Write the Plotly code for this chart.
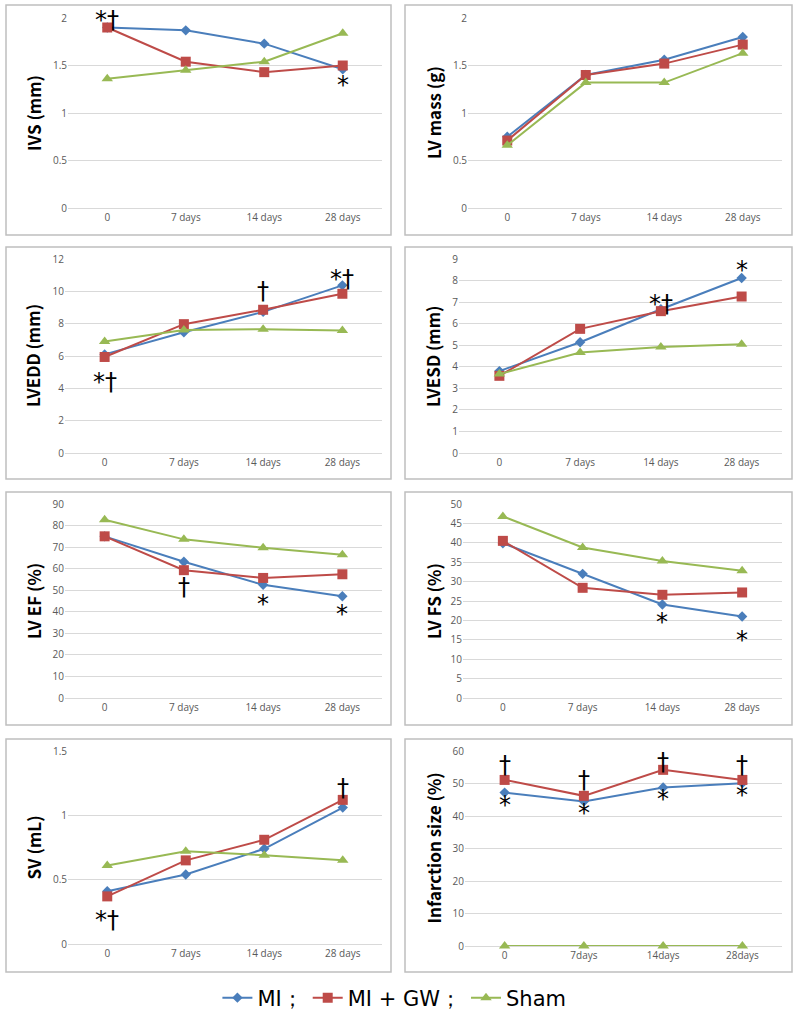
import plotly.graph_objects as go

W, H = 800, 1012

cats = ["0", "7 days", "14 days", "28 days"]
cats_inf = ["0", "7days", "14days", "28days"]

series_names = ["MI；", "MI + GW；", "Sham"]

# panel values: MI, MI+GW, Sham
ivs_mi = [1.90, 1.87, 1.73, 1.46]
ivs_gw = [1.90, 1.54, 1.43, 1.50]
ivs_sham = [1.36, 1.45, 1.54, 1.84]

mass_mi = [0.75, 1.40, 1.56, 1.80]
mass_gw = [0.71, 1.40, 1.52, 1.72]
mass_sham = [0.66, 1.32, 1.32, 1.63]

lvedd_mi = [6.10, 7.47, 8.73, 10.37]
lvedd_gw = [5.94, 7.97, 8.86, 9.85]
lvedd_sham = [6.89, 7.61, 7.66, 7.57]

lvesd_mi = [3.80, 5.14, 6.67, 8.12]
lvesd_gw = [3.58, 5.76, 6.58, 7.26]
lvesd_sham = [3.66, 4.66, 4.92, 5.04]

ef_mi = [75.0, 63.2, 52.5, 47.2]
ef_gw = [75.0, 59.3, 55.7, 57.4]
ef_sham = [82.7, 73.6, 69.7, 66.4]

fs_mi = [39.9, 32.0, 24.1, 21.0]
fs_gw = [40.5, 28.4, 26.6, 27.2]
fs_sham = [46.8, 38.8, 35.3, 32.8]

sv_mi = [0.41, 0.54, 0.74, 1.06]
sv_gw = [0.37, 0.65, 0.81, 1.12]
sv_sham = [0.61, 0.72, 0.69, 0.65]

inf_mi = [47.2, 44.5, 48.8, 50.1]
inf_gw = [51.1, 46.2, 54.2, 51.1]
inf_sham = [0, 0, 0, 0]

# significance marks: (panel index, category index, y value, text)
marks = [
    (0, 0, 1.98, "*†"), (0, 3, 1.30, "*"),
    (2, 0, 4.4, "*†"), (2, 2, 10.0, "†"), (2, 3, 10.75, "*†"),
    (3, 2, 6.9, "*†"), (3, 3, 8.5, "*"),
    (4, 1, 51.6, "†"), (4, 2, 43.5, "*"), (4, 3, 39.0, "*"),
    (5, 2, 19.5, "*"), (5, 3, 15.0, "*"),
    (6, 0, 0.19, "*†"), (6, 3, 1.21, "†"),
    (7, 0, 55.7, "†"), (7, 1, 51.1, "†"), (7, 2, 56.7, "†"), (7, 3, 55.7, "†"),
    (7, 0, 43.3, "*"), (7, 1, 41.0, "*"), (7, 2, 45.3, "*"), (7, 3, 46.5, "*"),
]

panels = [
    dict(title="IVS (mm)", cats=cats, data=[ivs_mi, ivs_gw, ivs_sham], rng=[0, 2], dt=0.5,
         plot=(68, 382, 18, 208), box=(6, 391, 5, 235)),
    dict(title="LV mass (g)", cats=cats, data=[mass_mi, mass_gw, mass_sham], rng=[0, 2], dt=0.5,
         plot=(468, 782, 18, 208), box=(405, 792, 5, 235)),
    dict(title="LVEDD (mm)", cats=cats, data=[lvedd_mi, lvedd_gw, lvedd_sham], rng=[0, 12], dt=2,
         plot=(65, 382, 259, 453), box=(6, 391, 247, 479)),
    dict(title="LVESD (mm)", cats=cats, data=[lvesd_mi, lvesd_gw, lvesd_sham], rng=[0, 9], dt=1,
         plot=(459, 782, 259, 453), box=(405, 792, 247, 479)),
    dict(title="LV EF (%)", cats=cats, data=[ef_mi, ef_gw, ef_sham], rng=[0, 90], dt=10,
         plot=(65, 382, 504, 698), box=(6, 391, 492, 725)),
    dict(title="LV FS (%)", cats=cats, data=[fs_mi, fs_gw, fs_sham], rng=[0, 50], dt=5,
         plot=(463, 782, 504, 698), box=(405, 792, 492, 725)),
    dict(title="SV (mL)", cats=cats, data=[sv_mi, sv_gw, sv_sham], rng=[0, 1.5], dt=0.5,
         plot=(68, 382, 751, 944), box=(6, 391, 739, 972)),
    dict(title="Infarction size (%)", cats=cats_inf, data=[inf_mi, inf_gw, inf_sham], rng=[0, 60], dt=10,
         plot=(465, 782, 751, 946), box=(405, 792, 739, 972)),
]

colors = ["#4a7ebb", "#be4b48", "#98b954"]
symbols = ["diamond", "square", "triangle-up"]
msizes = [8, 10, 10]

fig = go.Figure()
layout = {}
shapes = []
annotations = []

def px(x):
    return x / W

def py(y):
    return 1 - y / H

for i, p in enumerate(panels):
    n = i + 1
    xa = "xaxis" if n == 1 else f"xaxis{n}"
    ya = "yaxis" if n == 1 else f"yaxis{n}"
    xr = "x" if n == 1 else f"x{n}"
    yr = "y" if n == 1 else f"y{n}"
    x0, x1, y0, y1 = p["plot"]
    layout[xa] = dict(domain=[px(x0), px(x1)], anchor=yr, type="category",
                      categoryorder="array", categoryarray=p["cats"], range=[-0.5, 3.5],
                      showgrid=False, showline=True, linecolor="#d9d9d9", linewidth=1,
                      ticks="", tickfont=dict(family="Open Sans", size=10, color="#595959"),
                      zeroline=False, fixedrange=True, automargin=False,
                      layer="below traces")
    layout[ya] = dict(domain=[py(y1), py(y0)], anchor=xr, range=p["rng"], dtick=p["dt"],
                      showgrid=True, gridcolor="#d9d9d9", gridwidth=1, zeroline=False,
                      showline=False, ticks="",
                      tickfont=dict(family="Open Sans", size=10, color="#595959"),
                      fixedrange=True, automargin=False, layer="below traces")
    for k in range(3):
        fig.add_trace(go.Scatter(
            x=p["cats"], y=p["data"][k], xaxis=xr, yaxis=yr, mode="lines+markers",
            name=series_names[k], legendgroup=series_names[k], showlegend=(i == 0),
            line=dict(color=colors[k], width=2),
            marker=dict(symbol=symbols[k], size=msizes[k], color=colors[k]),
            cliponaxis=False,
        ))
    bx0, bx1, by0, by1 = p["box"]
    shapes.append(dict(type="rect", xref="paper", yref="paper",
                       x0=px(bx0), x1=px(bx1), y0=py(by1), y1=py(by0),
                       line=dict(color="#bfbfbf", width=1.5), layer="below"))
    tx = 33 if bx0 < 400 else 433
    annotations.append(dict(xref="paper", yref="paper", x=px(tx), y=py((y0 + y1) / 2),
                            text=p["title"], textangle=-90, showarrow=False,
                            xanchor="center", yanchor="middle",
                            font=dict(family="Noto Sans CJK KR", size=17, color="#000000",
                                      weight="bold")))

for (pi, ci, yv, txt) in marks:
    n = pi + 1
    xr = "x" if n == 1 else f"x{n}"
    yr = "y" if n == 1 else f"y{n}"
    annotations.append(dict(xref=xr, yref=yr, x=panels[pi]["cats"][ci], y=yv, text=txt,
                            showarrow=False, xanchor="center", yanchor="middle",
                            font=dict(family="DejaVu Sans", size=24, color="#000000")))

fig.update_layout(
    width=W, height=H, margin=dict(l=0, r=0, t=0, b=0, autoexpand=False),
    paper_bgcolor="#ffffff", plot_bgcolor="#ffffff",
    shapes=shapes, annotations=annotations,
    legend=dict(orientation="h", x=0.493, xanchor="center", y=py(998), yanchor="middle",
                font=dict(family="DejaVu Sans", size=21, color="#000000"),
                itemwidth=30, bgcolor="rgba(0,0,0,0)"),
    **layout,
)

fig.write_html("out.html", config={"displayModeBar": False},
               post_script="document.body.style.margin='0px';document.body.style.overflow='hidden';")
